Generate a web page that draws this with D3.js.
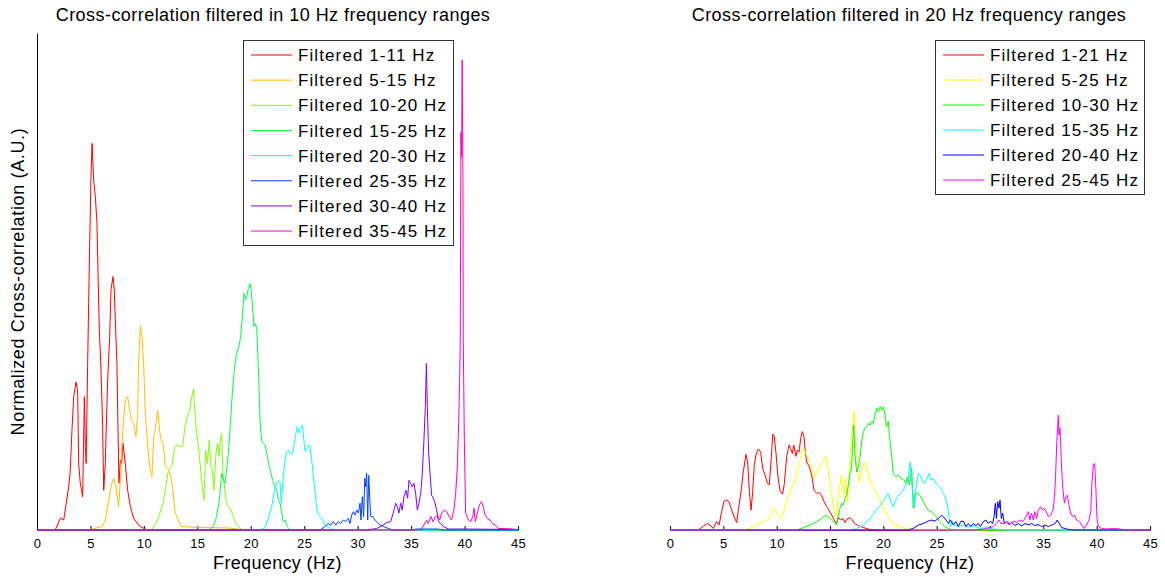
<!DOCTYPE html>
<html>
<head>
<meta charset="utf-8">
<script src="https://cdn.jsdelivr.net/npm/d3@7"></script>
<style>
  body { margin: 0; background: #fff; }
  text { font-family: "Liberation Sans", Arial, sans-serif; fill: #000; }
</style>
</head>
<body>
<div id="chart"></div>
<script>
// ---- data: [frequency (Hz), normalized cross-correlation] ----
const freqTicks = [0, 5, 10, 15, 20, 25, 30, 35, 40, 45];

const labels10 = ["Filtered 1-11 Hz", "Filtered 5-15 Hz", "Filtered 10-20 Hz", "Filtered 15-25 Hz",
                  "Filtered 20-30 Hz", "Filtered 25-35 Hz", "Filtered 30-40 Hz", "Filtered 35-45 Hz"];
const colors10 = ["#ff0000", "#ffbf00", "#80ff00", "#00ff40", "#00ffff", "#0040ff", "#8000ff", "#ff00bf"];

const labels20 = ["Filtered 1-21 Hz", "Filtered 5-25 Hz", "Filtered 10-30 Hz",
                  "Filtered 15-35 Hz", "Filtered 20-40 Hz", "Filtered 25-45 Hz"];
const colors20 = ["#ff0000", "#ffff00", "#00ff00", "#00ffff", "#0000ff", "#ff00ff"];

const f1_11 = [[0,0],[1.7,0],[2.2,0.024],[2.5,0.02],[2.96,0.087],[3.1,0.115],[3.27,0.2],[3.43,0.268],[3.65,0.298],[3.8,0.28],[3.9,0.134],[4.05,0.094],[4.27,0.067],[4.43,0.268],[4.52,0.168],[4.6,0.134],[4.74,0.335],[4.83,0.456],[4.93,0.577],[5.05,0.711],[5.15,0.778],[5.3,0.704],[5.46,0.671],[5.61,0.617],[5.7,0.523],[5.83,0.402],[5.99,0.322],[6.14,0.208],[6.24,0.08],[6.39,0.134],[6.49,0.215],[6.61,0.302],[6.8,0.389],[6.92,0.483],[7.11,0.51],[7.23,0.483],[7.36,0.402],[7.48,0.335],[7.58,0.2],[7.67,0.094],[7.8,0.141],[7.92,0.134],[8.04,0.175],[8.26,0.134],[8.48,0.08],[8.73,0.047],[9.04,0.024],[9.5,0.01],[10,0.003],[10.4,0],[45,0]];
const f5_15 = [[0,0],[4.8,0],[6.1,0.007],[6.4,0.02],[6.7,0.06],[7.0,0.094],[7.17,0.104],[7.39,0.087],[7.64,0.047],[7.8,0.1],[7.95,0.168],[8.1,0.221],[8.26,0.262],[8.48,0.268],[8.67,0.241],[8.82,0.221],[9.04,0.215],[9.26,0.188],[9.42,0.235],[9.5,0.335],[9.67,0.412],[9.82,0.389],[9.98,0.335],[10.13,0.235],[10.35,0.168],[10.6,0.121],[10.76,0.107],[10.9,0.181],[11.13,0.215],[11.29,0.241],[11.47,0.2],[11.6,0.181],[11.79,0.175],[12.0,0.128],[12.3,0.121],[12.6,0.1],[12.94,0.034],[13.5,0.007],[15,0.005],[18,0.004],[19.5,0],[45,0]];
const f10_20 = [[0,0],[10.7,0],[11.2,0.015],[11.8,0.054],[12.3,0.121],[12.6,0.127],[12.9,0.168],[13.1,0.171],[13.4,0.168],[13.63,0.168],[13.85,0.208],[14.06,0.228],[14.3,0.241],[14.47,0.268],[14.63,0.283],[14.75,0.241],[14.88,0.208],[15.1,0.168],[15.31,0.121],[15.46,0.087],[15.62,0.06],[15.78,0.161],[15.94,0.134],[16.12,0.181],[16.25,0.127],[16.4,0.121],[16.56,0.08],[16.72,0.148],[16.87,0.174],[17.02,0.148],[17.1,0.174],[17.28,0.195],[17.37,0.121],[17.5,0.094],[17.68,0.06],[17.9,0.047],[18.14,0.04],[18.37,0.027],[18.6,0.013],[18.84,0.007],[19.2,0],[45,0]];
const f15_25 = [[0,0],[16.03,0],[16.5,0.007],[16.8,0.027],[17.06,0.06],[17.28,0.114],[17.44,0.1],[17.6,0.094],[17.74,0.121],[17.9,0.154],[18.06,0.201],[18.21,0.255],[18.37,0.302],[18.53,0.335],[18.68,0.356],[18.9,0.369],[19.05,0.389],[19.24,0.436],[19.37,0.476],[19.5,0.463],[19.62,0.469],[19.77,0.486],[19.93,0.496],[20.05,0.48],[20.18,0.443],[20.3,0.409],[20.43,0.416],[20.55,0.406],[20.65,0.356],[20.77,0.288],[20.86,0.221],[21.02,0.178],[21.33,0.171],[21.55,0.148],[21.74,0.127],[21.89,0.114],[22.05,0.1],[22.27,0.087],[22.42,0.08],[22.58,0.06],[22.73,0.054],[22.9,0.034],[23.04,0.017],[23.2,0.02],[23.42,0.007],[23.67,0],[45,0]];
const f20_30 = [[0,0],[20.86,0],[21.33,0.005],[21.64,0.023],[21.96,0.047],[22.17,0.074],[22.42,0.094],[22.6,0.1],[22.73,0.097],[22.86,0.054],[22.95,0.08],[23.04,0.107],[23.2,0.141],[23.36,0.157],[23.51,0.161],[23.67,0.154],[23.92,0.154],[24.07,0.174],[24.23,0.195],[24.35,0.208],[24.48,0.195],[24.6,0.205],[24.79,0.211],[24.91,0.195],[25.07,0.158],[25.23,0.161],[25.42,0.171],[25.54,0.168],[25.7,0.141],[25.85,0.107],[26.0,0.08],[26.15,0.047],[26.25,0.034],[26.4,0.03],[26.73,0.02],[26.9,0.01],[27.2,0.007],[27.7,0],[45,0]];
const f25_35 = [[0,0],[26.5,0],[26.94,0.007],[27.25,0.013],[27.47,0.01],[27.72,0.017],[27.97,0.01],[28.19,0.017],[28.4,0.013],[28.66,0.02],[28.9,0.017],[29.13,0.023],[29.28,0.013],[29.44,0.03],[29.6,0.037],[29.75,0.03],[29.91,0.04],[30.07,0.034],[30.22,0.054],[30.31,0.02],[30.44,0.067],[30.56,0.027],[30.66,0.104],[30.75,0.087],[30.84,0.114],[30.94,0.02],[31.03,0.11],[31.12,0.067],[31.22,0.027],[31.4,0.027],[31.62,0.02],[31.84,0.015],[32.09,0.01],[32.4,0.007],[32.87,0.003],[33.3,0],[35,0],[35.5,0.002],[37.5,0.002],[38,0],[45,0]];
const f30_40 = [[0,0],[30.84,0],[31.78,0.003],[32.25,0.008],[32.72,0.015],[33.09,0.017],[33.33,0.034],[33.55,0.054],[33.71,0.047],[33.86,0.034],[34.02,0.054],[34.17,0.04],[34.33,0.067],[34.52,0.08],[34.67,0.064],[34.8,0.1],[34.95,0.094],[35.1,0.087],[35.27,0.094],[35.42,0.074],[35.58,0.04],[35.73,0.054],[35.9,0.074],[36.05,0.114],[36.2,0.181],[36.33,0.248],[36.43,0.335],[36.52,0.248],[36.64,0.154],[36.77,0.114],[36.92,0.07],[37.08,0.064],[37.23,0.054],[37.39,0.04],[37.55,0.017],[37.77,0.013],[38.0,0.007],[38.5,0.002],[40,0.002],[45,0.001]];
const f35_45 = [[0,0],[35.9,0],[36.46,0.02],[36.6,0.013],[36.86,0.027],[37.05,0.017],[37.27,0.027],[37.48,0.03],[37.67,0.02],[37.86,0.034],[38.08,0.04],[38.33,0.037],[38.55,0.027],[38.79,0.02],[39.0,0.04],[39.17,0.074],[39.32,0.127],[39.45,0.215],[39.55,0.315],[39.6,0.38],[39.66,0.8],[39.72,0.75],[39.78,0.946],[39.85,0.7],[39.88,0.38],[39.98,0.181],[40.1,0.034],[40.36,0.02],[40.58,0.017],[40.77,0.027],[40.88,0.044],[41.0,0.017],[41.2,0.034],[41.38,0.05],[41.57,0.057],[41.76,0.047],[41.91,0.03],[42.13,0.023],[42.38,0.02],[42.6,0.013],[42.85,0.01],[43.16,0.003],[43.6,0.003],[44.6,0.002],[45,0]];

const f1_21 = [[0,0],[2.66,0],[3.1,0.007],[3.5,0.013],[3.75,0.01],[4.06,0.003],[4.37,0.017],[4.6,0.01],[4.84,0.037],[5.06,0.058],[5.3,0.06],[5.53,0.057],[5.78,0.04],[6.0,0.027],[6.25,0.015],[6.47,0.05],[6.66,0.077],[6.87,0.117],[7.12,0.152],[7.28,0.137],[7.44,0.077],[7.6,0.04],[7.75,0.077],[7.9,0.13],[8.06,0.151],[8.28,0.163],[8.5,0.157],[8.69,0.124],[8.9,0.111],[9.13,0.094],[9.31,0.091],[9.47,0.137],[9.63,0.193],[9.78,0.188],[9.94,0.154],[10.1,0.111],[10.3,0.08],[10.56,0.072],[10.72,0.094],[10.94,0.148],[11.16,0.171],[11.3,0.164],[11.47,0.154],[11.6,0.171],[11.8,0.148],[11.94,0.161],[12.1,0.157],[12.25,0.184],[12.4,0.198],[12.56,0.188],[12.66,0.164],[12.8,0.137],[13.06,0.127],[13.28,0.111],[13.5,0.08],[13.75,0.074],[14.0,0.075],[14.2,0.07],[14.44,0.057],[14.7,0.047],[14.9,0.04],[15.16,0.03],[15.4,0.02],[15.6,0.013],[15.8,0.025],[16.0,0.02],[16.2,0.023],[16.4,0.015],[16.6,0.022],[16.9,0.025],[17.1,0.02],[17.3,0.013],[17.66,0.009],[18.1,0.005],[18.75,0.001],[19.5,0],[45,0]];
const f5_25 = [[0,0],[6.9,0],[7.5,0.003],[8.0,0.01],[8.44,0.015],[8.9,0.017],[9.3,0.023],[9.53,0.034],[9.75,0.044],[9.94,0.037],[10.16,0.027],[10.4,0.023],[10.6,0.03],[10.84,0.054],[11.1,0.07],[11.3,0.08],[11.56,0.091],[11.8,0.104],[12.03,0.124],[12.25,0.144],[12.44,0.164],[12.6,0.161],[12.8,0.151],[13.06,0.137],[13.28,0.124],[13.5,0.105],[13.75,0.117],[14.0,0.127],[14.2,0.134],[14.44,0.141],[14.6,0.148],[14.75,0.131],[14.94,0.104],[15.1,0.077],[15.3,0.05],[15.47,0.027],[15.6,0.034],[15.78,0.07],[15.94,0.091],[16.06,0.111],[16.2,0.084],[16.3,0.07],[16.47,0.104],[16.6,0.057],[16.8,0.104],[16.9,0.157],[17.03,0.184],[17.16,0.218],[17.25,0.241],[17.34,0.191],[17.47,0.144],[17.6,0.117],[17.72,0.097],[17.88,0.111],[18.06,0.127],[18.22,0.137],[18.38,0.127],[18.6,0.111],[18.8,0.094],[19.06,0.087],[19.28,0.077],[19.53,0.067],[19.75,0.057],[20.0,0.044],[20.25,0.034],[20.47,0.025],[20.8,0.013],[21.1,0.01],[21.56,0.007],[22.0,0.003],[22.5,0.001],[23,0],[45,0]];
const f10_30 = [[0,0],[11.9,0],[12.5,0.005],[13.1,0.01],[13.75,0.017],[14.2,0.023],[14.53,0.029],[14.84,0.027],[15.16,0.02],[15.47,0.013],[15.6,0.01],[15.78,0.03],[15.94,0.044],[16.1,0.054],[16.25,0.05],[16.4,0.064],[16.56,0.07],[16.72,0.091],[16.88,0.114],[17.03,0.127],[17.13,0.178],[17.22,0.211],[17.34,0.151],[17.5,0.117],[17.66,0.127],[17.8,0.144],[17.97,0.178],[18.13,0.198],[18.28,0.205],[18.44,0.208],[18.6,0.215],[18.75,0.211],[18.9,0.218],[19.06,0.215],[19.22,0.231],[19.38,0.245],[19.53,0.238],[19.7,0.248],[19.84,0.241],[20.0,0.248],[20.16,0.231],[20.3,0.208],[20.47,0.218],[20.6,0.184],[20.8,0.144],[20.94,0.111],[21.2,0.107],[21.4,0.111],[21.6,0.104],[21.9,0.101],[22.1,0.094],[22.25,0.107],[22.44,0.091],[22.66,0.124],[22.8,0.044],[22.97,0.074],[23.28,0.074],[23.6,0.064],[23.9,0.05],[24.2,0.04],[24.53,0.036],[24.84,0.03],[25.16,0.02],[25.47,0.013],[25.78,0.007],[26.1,0.003],[26.5,0],[45,0]];
const f15_35 = [[0,0],[17.0,0],[17.5,0.003],[18.13,0.01],[18.75,0.023],[19.2,0.037],[19.6,0.047],[19.94,0.056],[20.16,0.062],[20.4,0.074],[20.53,0.07],[20.7,0.057],[20.9,0.047],[21.1,0.057],[21.3,0.067],[21.56,0.072],[21.87,0.08],[22.1,0.09],[22.34,0.104],[22.5,0.137],[22.66,0.097],[22.9,0.044],[23.06,0.084],[23.28,0.114],[23.5,0.107],[23.69,0.097],[23.9,0.094],[24.1,0.104],[24.3,0.114],[24.47,0.1],[24.69,0.104],[24.84,0.097],[25.06,0.091],[25.3,0.087],[25.56,0.077],[25.78,0.067],[26.0,0.05],[26.19,0.023],[26.31,0.007],[26.5,0.017],[26.72,0.01],[27.0,0.007],[27.5,0.01],[27.97,0.005],[28.4,0.009],[29.06,0.003],[29.7,0.005],[30.3,0.002],[31.5,0],[45,0]];
const f20_40 = [[0,0],[22.2,0],[22.8,0.003],[23.3,0.01],[23.75,0.013],[24.2,0.018],[24.53,0.02],[24.84,0.018],[25.16,0.023],[25.47,0.03],[25.6,0.027],[25.88,0.02],[26.1,0.013],[26.3,0.02],[26.56,0.01],[26.8,0.017],[27.03,0.007],[27.25,0.017],[27.5,0.018],[27.75,0.007],[27.97,0.013],[28.2,0.007],[28.44,0.013],[28.69,0.009],[28.9,0.013],[29.1,0.007],[29.37,0.017],[29.62,0.02],[29.84,0.013],[30.06,0.018],[30.25,0.013],[30.4,0.03],[30.5,0.054],[30.6,0.023],[30.72,0.057],[30.84,0.044],[30.94,0.06],[31.06,0.023],[31.19,0.034],[31.34,0.013],[31.56,0.017],[31.81,0.01],[32.03,0.015],[32.34,0.009],[32.66,0.013],[32.97,0.008],[33.28,0.013],[33.6,0.01],[33.9,0.013],[34.2,0.009],[34.5,0.011],[34.84,0.007],[35.16,0.01],[35.47,0.007],[35.78,0.01],[36.1,0.013],[36.3,0.02],[36.5,0.013],[36.72,0.005],[37.2,0.002],[37.8,0],[45,0]];
const f25_45 = [[0,0],[28.75,0],[29.7,0.003],[30.3,0.007],[30.6,0.013],[30.84,0.02],[31.03,0.013],[31.25,0.013],[31.56,0.017],[31.87,0.013],[32.2,0.018],[32.5,0.015],[32.8,0.02],[33.1,0.017],[33.44,0.03],[33.6,0.037],[33.75,0.02],[33.9,0.034],[34.06,0.02],[34.2,0.037],[34.37,0.023],[34.53,0.04],[34.75,0.047],[34.9,0.04],[35.06,0.044],[35.25,0.037],[35.47,0.027],[35.7,0.03],[35.9,0.04],[36.0,0.057],[36.13,0.097],[36.25,0.171],[36.4,0.231],[36.47,0.191],[36.56,0.205],[36.69,0.137],[36.8,0.091],[36.97,0.054],[37.1,0.067],[37.25,0.07],[37.4,0.05],[37.56,0.034],[37.75,0.027],[37.9,0.03],[38.13,0.02],[38.37,0.017],[38.6,0.01],[38.84,0.003],[39.06,0.01],[39.28,0.02],[39.44,0.037],[39.56,0.097],[39.69,0.131],[39.81,0.134],[39.94,0.077],[40.03,0.023],[40.16,0.007],[40.47,0.003],[40.94,0.002],[41.56,0.003],[42.2,0.002],[42.8,0],[45,0]];

const series10 = [f1_11, f5_15, f10_20, f15_25, f20_30, f25_35, f30_40, f35_45];
const series20 = [f1_21, f5_25, f10_30, f15_35, f20_40, f25_45];

// ---- layout ----
const width = 1165, height = 577;
const yTop = 33, yBase = 530;

const panels = [
  { title: "Cross-correlation filtered in 10 Hz frequency ranges", left: 37, right: 518, titleX: 273,
    series: series10, colors: colors10, labels: labels10, yAxis: true,
    legend: { x: 243.5, y: 40.5, w: 210, h: 205, row0: 55, step: 25.15, lineX: 251, textX: 298 } },
  { title: "Cross-correlation filtered in 20 Hz frequency ranges", left: 670, right: 1150, titleX: 909,
    series: series20, colors: colors20, labels: labels20, yAxis: false,
    legend: { x: 935.5, y: 40.5, w: 209, h: 154, row0: 55, step: 25, lineX: 943, textX: 990 } }
];

const svg = d3.select("#chart")
  .append("svg")
  .attr("width", width)
  .attr("height", height);

panels.forEach(p => {
  let x = d3.scaleLinear().domain([0, 45]).range([p.left, p.right]);
  let y = d3.scaleLinear().domain([0, 1]).range([yBase, yTop]);

  // x axis, ticks pointing inward (up)
  let xAxis = svg.append("g")
    .attr("transform", `translate(0,${yBase})`)
    .call(d3.axisBottom(x).tickValues(freqTicks).tickSizeInner(-4).tickSizeOuter(0).tickPadding(9));
  xAxis.select(".domain").attr("stroke", "#000");
  xAxis.selectAll(".tick line").attr("stroke", "#000");
  xAxis.selectAll(".tick text")
    .style("font-family", '"Liberation Sans", Arial, sans-serif')
    .style("font-size", "13px")
    .style("letter-spacing", "0.4px");

  if (p.yAxis) {
    svg.append("g")
      .attr("transform", `translate(${p.left},0)`)
      .call(d3.axisLeft(y).ticks(0).tickSizeOuter(0))
      .select(".domain").attr("stroke", "#000");
  }

  let line = d3.line()
    .x(d => x(d[0]))
    .y(d => y(d[1]));

  p.series.forEach((s, i) => {
    svg.append("path")
      .datum(s)
      .attr("fill", "none")
      .attr("stroke", p.colors[i])
      .attr("stroke-width", 1)
      .attr("d", line);
  });

  // title and x label
  svg.append("text")
    .attr("x", p.titleX)
    .attr("y", 21)
    .attr("text-anchor", "middle")
    .style("font-size", "18px")
    .style("letter-spacing", "0.45px")
    .text(p.title);

  svg.append("text")
    .attr("x", (p.left + p.right) / 2)
    .attr("y", 569)
    .attr("text-anchor", "middle")
    .style("font-size", "18px")
    .style("letter-spacing", "0.35px")
    .text("Frequency (Hz)");

  // legend
  let lg = p.legend;
  let leg = svg.append("g");
  leg.append("rect")
    .attr("x", lg.x).attr("y", lg.y)
    .attr("width", lg.w).attr("height", lg.h)
    .attr("fill", "#fff")
    .attr("stroke", "#333");
  p.labels.forEach((lab, i) => {
    let cy = lg.row0 + i * lg.step;
    leg.append("line")
      .attr("x1", lg.lineX).attr("x2", lg.lineX + 41)
      .attr("y1", cy).attr("y2", cy)
      .attr("stroke", p.colors[i])
      .attr("stroke-width", 1);
    leg.append("text")
      .attr("x", lg.textX)
      .attr("y", cy)
      .attr("dy", "0.36em")
      .style("font-size", "17px")
      .style("letter-spacing", "1.1px")
      .text(lab);
  });
});

svg.append("text")
  .attr("transform", `translate(24,${(yTop + yBase) / 2}) rotate(-90)`)
  .attr("text-anchor", "middle")
  .style("font-size", "18px")
  .style("letter-spacing", "0.65px")
  .text("Normalized Cross-correlation (A.U.)");
</script>
</body>
</html>
